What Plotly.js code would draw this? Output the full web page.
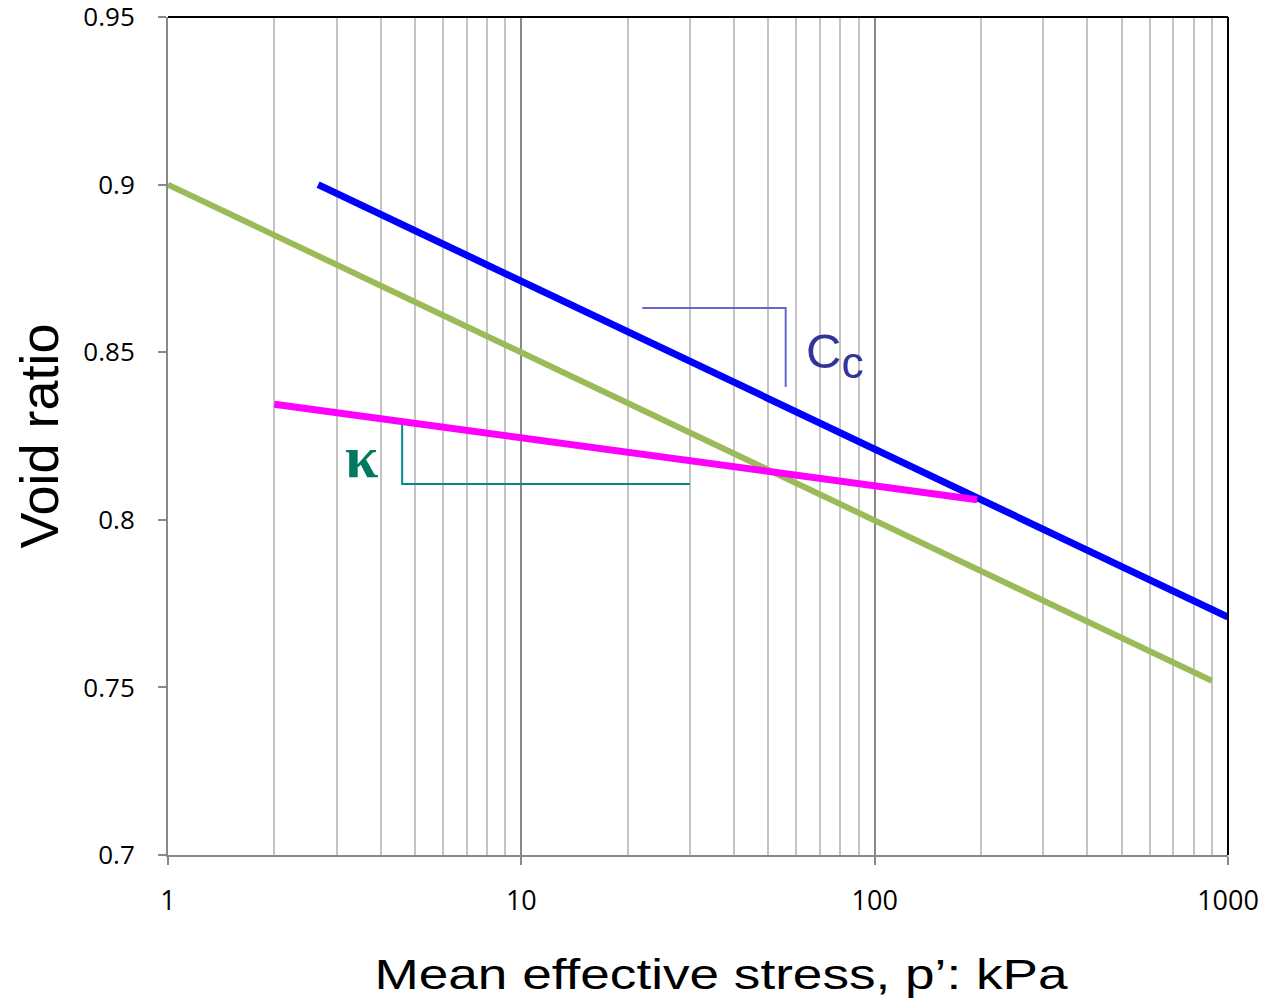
<!DOCTYPE html>
<html>
<head>
<meta charset="utf-8">
<script src="https://cdn.plot.ly/plotly-3.0.1.min.js"></script>
<style>html,body{margin:0;padding:0;background:#fff;}#chart{width:1267px;height:1006px;}</style>
</head>
<body>
<div id="chart"></div>
<script>
// Series (p' in kPa, void ratio)
var ncl_p = [2.66, 1000];
var ncl_e = [0.900, 0.771];
var green_p = [1, 900];
var green_e = [0.900, 0.752];
var url_p = [2, 195];
var url_e = [0.8345, 0.806];
// Slope markers
var cc_p = [22, 56, 56];
var cc_e = [0.8632, 0.8632, 0.8396];
var k_p = [4.6, 4.6, 30];
var k_e = [0.8283, 0.8107, 0.8107];
// Ticks
var xTicks = [1, 10, 100, 1000];
var xTickText = ['1', '10', '100', '1000'];
var yTicks = [0.7, 0.75, 0.8, 0.85, 0.9, 0.95];
var yTickText = ['0.7', '0.75', '0.8', '0.85', '0.9', '0.95'];

var traces = [
  {x: green_p, y: green_e, mode: 'lines', line: {color: '#9bbb59', width: 6}, hoverinfo: 'skip'},
  {x: ncl_p, y: ncl_e, mode: 'lines', line: {color: '#0000ff', width: 7}, hoverinfo: 'skip'},
  {x: url_p, y: url_e, mode: 'lines', line: {color: '#ff00ff', width: 7}, hoverinfo: 'skip'},
  {x: cc_p, y: cc_e, mode: 'lines', line: {color: '#6666cc', width: 2}, hoverinfo: 'skip'},
  {x: k_p, y: k_e, mode: 'lines', line: {color: '#008b8b', width: 2}, hoverinfo: 'skip'}
];

var layout = {
  width: 1267, height: 1006,
  margin: {l: 168, r: 39, t: 17, b: 151},
  showlegend: false,
  paper_bgcolor: '#fff', plot_bgcolor: '#fff',
  font: {family: 'Open Sans, sans-serif', color: '#000'},
  xaxis: {
    type: 'log', range: [0, 3],
    tickvals: xTicks, ticktext: xTickText,
    ticks: 'outside', ticklen: 8, tickcolor: '#888', tickwidth: 2,
    ticklabelstandoff: 13,
    tickfont: {size: 27, family: 'Open Sans, sans-serif'},
    showgrid: true, gridcolor: '#888', gridwidth: 2,
    minor: {dtick: 'D1', showgrid: true, gridcolor: '#c4c4c4', gridwidth: 2, ticks: ''},
    showline: true, linecolor: '#888', linewidth: 2,
    zeroline: false,
    title: {text: 'Mean effective stress, p\u2019: kPa', font: {size: 42, family: 'Liberation Sans, Arial, sans-serif'}, standoff: 42}
  },
  yaxis: {
    range: [0.7, 0.95],
    tickvals: yTicks, ticktext: yTickText,
    ticks: 'outside', ticklen: 8, tickcolor: '#888', tickwidth: 2,
    ticklabelstandoff: 18,
    ticklabeloverflow: 'allow',
    tickfont: {size: 26, family: 'Open Sans, sans-serif'},
    showgrid: false,
    showline: true, linecolor: '#888', linewidth: 2,
    zeroline: false,
    title: {text: 'Void ratio', font: {size: 54, family: 'Liberation Sans, Arial, sans-serif'}, standoff: 7}
  },
  shapes: [
    {type: 'line', xref: 'paper', yref: 'paper', x0: 0, x1: 1, y0: 1, y1: 1, line: {color: '#000', width: 2}},
    {type: 'line', xref: 'paper', yref: 'paper', x0: 1, x1: 1, y0: 0, y1: 1, line: {color: '#000', width: 2}}
  ],
  annotations: [
    {x: Math.log10(63), y: 0.849, xref: 'x', yref: 'y', text: 'C<sub><span style="font-size:44px">c</span></sub>', showarrow: false,
     xanchor: 'left', yanchor: 'middle', font: {size: 49, color: '#333399', family: 'Liberation Sans, Arial, sans-serif'}},
    {x: Math.log10(3.52), y: 0.8187, xref: 'x', yref: 'y', text: '<b>\u03ba</b>', showarrow: false,
     xanchor: 'center', yanchor: 'middle', font: {size: 60, color: '#007a5e', family: 'Liberation Serif, Times New Roman, serif'}}
  ]
};

Plotly.newPlot('chart', traces, layout, {displayModeBar: false, staticPlot: true}).then(function () {
  var t = document.querySelector('#chart .xtitle');
  if (t) {
    t.setAttribute('textLength', '693');
    t.setAttribute('lengthAdjust', 'spacingAndGlyphs');
    var x0 = parseFloat(t.getAttribute('x'));
    if (!isNaN(x0)) t.setAttribute('x', String(x0 + 23));
  }
});
</script>
</body>
</html>
